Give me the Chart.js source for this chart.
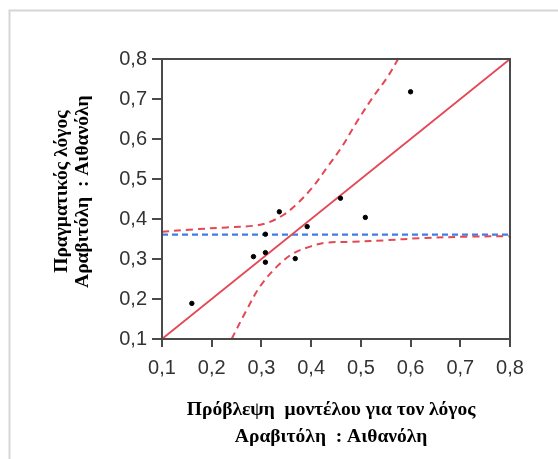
<!DOCTYPE html>
<html>
<head>
<meta charset="utf-8">
<script src="https://cdn.jsdelivr.net/npm/chart.js@4/dist/chart.umd.min.js"></script>
<style>
  html, body { margin: 0; padding: 0; background: #fff; }
  #wrap { width: 558px; height: 459px; position: relative; }
</style>
</head>
<body>
<div id="wrap"><canvas id="c" width="558" height="459"></canvas></div>
<script>
// ---- data ----
const predicted = [0.160, 0.284, 0.308, 0.308, 0.308, 0.336, 0.368, 0.392, 0.459, 0.509, 0.600];
const actual    = [0.189, 0.306, 0.362, 0.316, 0.292, 0.418, 0.301, 0.381, 0.452, 0.404, 0.718];

const fitX = [0.1, 0.8];
const fitY = [0.1, 0.8];

const meanX = [0.1, 0.8];
const meanY = [0.361, 0.361];

const upperX = [0.100, 0.163, 0.230, 0.284, 0.311, 0.344, 0.371, 0.404, 0.431, 0.462, 0.492, 0.525, 0.552, 0.575];
const upperY = [0.368, 0.374, 0.379, 0.383, 0.390, 0.410, 0.437, 0.481, 0.527, 0.581, 0.643, 0.706, 0.752, 0.800];

const lowerX = [0.240, 0.270, 0.297, 0.331, 0.364, 0.398, 0.431, 0.485, 0.552, 0.619, 0.720, 0.800];
const lowerY = [0.100, 0.172, 0.231, 0.281, 0.314, 0.331, 0.341, 0.343, 0.347, 0.352, 0.356, 0.357];

const tickLabels = ['0,1', '0,2', '0,3', '0,4', '0,5', '0,6', '0,7', '0,8'];

const NB = '\u00A0';
const xTitle = ['Πρόβλεψη  μοντέλου για τον λόγος' + NB + NB, 'Αραβιτόλη  : Αιθανόλη' + NB + NB];
const yTitle = [NB + NB + NB + 'Πραγματικός λόγος', NB + NB + NB + 'Αραβιτόλη  : Αιθανόλη'];

// ---- helpers ----
const pts = (xs, ys) => xs.map((x, i) => ({ x: x, y: ys[i] }));

const RED = 'rgb(228,72,86)';
const BLUE = 'rgb(66,124,230)';
const AXIS = '#4a4a4a';

const framePlugin = {
  id: 'frame',
  beforeDraw(chart) {
    const ctx = chart.ctx;
    ctx.save();
    ctx.fillStyle = '#fff';
    ctx.fillRect(0, 0, chart.width, chart.height);
    ctx.strokeStyle = '#d6d6d6';
    ctx.lineWidth = 2;
    ctx.beginPath();
    ctx.moveTo(9.5, chart.height);
    ctx.lineTo(9.5, 10.5);
    ctx.lineTo(chart.width, 10.5);
    ctx.stroke();
    ctx.restore();
  },
  afterDraw(chart) {
    const a = chart.chartArea;
    const ctx = chart.ctx;
    ctx.save();
    ctx.strokeStyle = AXIS;
    ctx.lineWidth = 2;
    ctx.strokeRect(a.left, a.top, a.right - a.left, a.bottom - a.top);
    ctx.restore();
  }
};

const tickFont = { family: '"Liberation Sans", Arial, sans-serif', size: 20 };
const titleFontX = { family: '"Liberation Serif", "Times New Roman", serif', size: 19.5, weight: 'bold', lineHeight: 1.4 };
const titleFontY = { family: '"Liberation Serif", "Times New Roman", serif', size: 19.5, weight: 'bold', lineHeight: 1.08 };

new Chart(document.getElementById('c'), {
  type: 'scatter',
  data: {
    datasets: [
      {
        label: 'points',
        data: pts(predicted, actual),
        backgroundColor: '#000',
        borderColor: '#000',
        pointRadius: 2.2,
        showLine: false
      },
      {
        label: 'fit',
        data: pts(fitX, fitY),
        showLine: true,
        borderColor: RED,
        borderWidth: 1.8,
        pointRadius: 0
      },
      {
        label: 'upper',
        data: pts(upperX, upperY),
        showLine: true,
        borderColor: RED,
        borderWidth: 2,
        borderDash: [7, 5],
        tension: 0.35,
        pointRadius: 0
      },
      {
        label: 'lower',
        data: pts(lowerX, lowerY),
        showLine: true,
        borderColor: RED,
        borderWidth: 2,
        borderDash: [7, 5],
        tension: 0.35,
        pointRadius: 0
      },
      {
        label: 'mean',
        data: pts(meanX, meanY),
        showLine: true,
        borderColor: BLUE,
        borderWidth: 2.2,
        borderDash: [6, 4],
        pointRadius: 0
      }
    ]
  },
  options: {
    responsive: false,
    animation: false,
    events: [],
    layout: { padding: { left: 51, top: 59, right: 48, bottom: 8 } },
    plugins: { legend: { display: false }, tooltip: { enabled: false } },
    scales: {
      x: {
        type: 'linear',
        min: 0.1, max: 0.8,
        afterFit(s) { s.height = 112; },
        ticks: {
          stepSize: 0.1,
          color: '#333',
          font: tickFont,
          padding: 9,
          callback: (v, i) => tickLabels[i]
        },
        grid: { drawOnChartArea: false, drawTicks: true, tickLength: 8, color: AXIS, lineWidth: 2 },
        border: { display: true, color: AXIS, width: 2 },
        title: { display: true, text: xTitle, color: '#000', font: titleFontX, padding: 0 }
      },
      y: {
        type: 'linear',
        min: 0.1, max: 0.8,
        afterFit(s) { s.width = 111; },
        ticks: {
          stepSize: 0.1,
          color: '#333',
          font: tickFont,
          padding: 5,
          callback: (v, i) => tickLabels[i]
        },
        grid: { drawOnChartArea: false, drawTicks: true, tickLength: 10, color: AXIS, lineWidth: 2 },
        border: { display: true, color: AXIS, width: 2 },
        title: { display: true, text: yTitle, color: '#000', font: titleFontY, padding: 0 }
      }
    }
  },
  plugins: [framePlugin]
});
</script>
</body>
</html>
